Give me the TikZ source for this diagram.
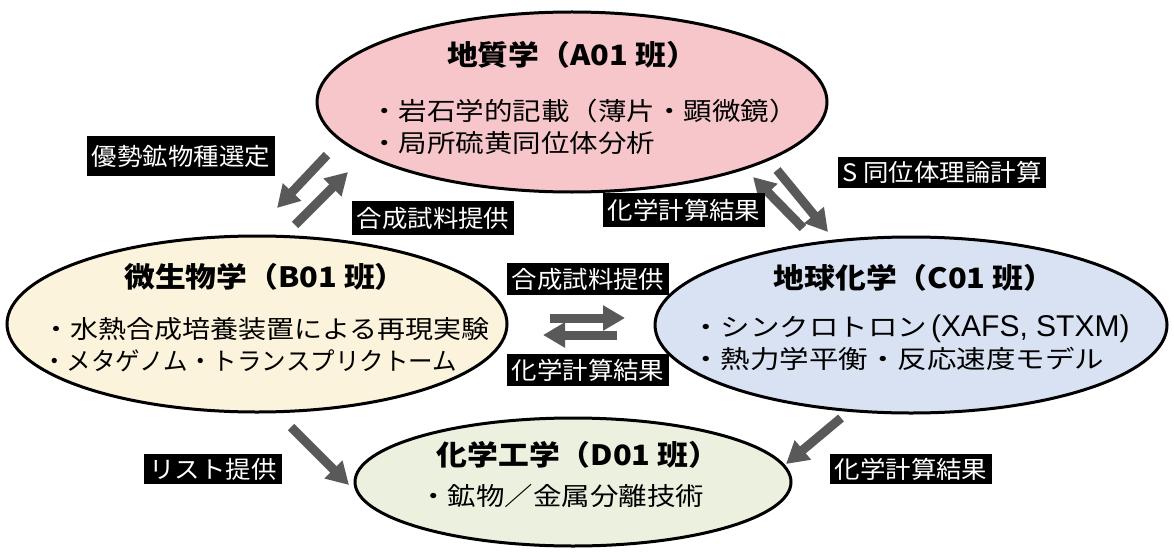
\documentclass[tikz,border=0pt]{standalone}
\usepackage{fontspec}
\setmainfont{Noto Sans CJK JP}
\newfontfamily\itemfont{Noto Sans CJK JP}[FakeStretch=1.14]
\newfontfamily\itemnarrowfont{Noto Sans CJK JP}[FakeStretch=1.12]
\newfontfamily\itemwidefont{Noto Sans CJK JP}[FakeStretch=1.18]
\newfontfamily\kanafont{Noto Sans CJK JP}[FakeStretch=0.98]
\newfontfamily\latinfont{Liberation Sans}
\newfontfamily\titlefont{Noto Sans CJK JP}[FakeStretch=1.1]
\newfontfamily\tagfont{Noto Sans CJK JP}[FakeStretch=1.06]
\usetikzlibrary{shapes.geometric,arrows.meta}
\definecolor{fillA}{RGB}{246,198,202}
\definecolor{fillB}{RGB}{252,243,221}
\definecolor{fillC}{RGB}{216,226,242}
\definecolor{fillD}{RGB}{235,241,222}
\definecolor{arrowgray}{RGB}{89,89,89}
\tikzset{
  groupbox/.style={ellipse, draw=black, line width=3pt, inner sep=0pt},
  titletext/.style={font=\titlefont\fontsize{28}{32}\selectfont\bfseries, inner sep=0pt},
  itemtext/.style={font=\itemfont\fontsize{25}{32}\selectfont, align=left, inner sep=0pt, anchor=west},
  tag/.style={fill=black, text=white, font=\tagfont\fontsize{24}{28}\selectfont, inner xsep=5pt, inner ysep=0pt, minimum height=34pt},
  flow/.style={draw=arrowgray, line width=9pt, -{Triangle[width=24pt,length=22pt]}, arrowgray}
}
\begin{document}
\begin{tikzpicture}[x=1pt,y=-1pt]
\useasboundingbox (0,0) rectangle (1174,559);
\fill[white] (0,0) rectangle (1174,559);

% ellipses
\node[groupbox, fill=fillA, minimum width=510pt, minimum height=180pt] (A) at (572,102) {};
\node[groupbox, fill=fillB, minimum width=500pt, minimum height=176pt] (B) at (257,324) {};
\node[groupbox, fill=fillC, minimum width=512pt, minimum height=176pt] (C) at (911,325) {};
\node[groupbox, fill=fillD, minimum width=436pt, minimum height=128pt] (D) at (573,482) {};

% texts
\node[titletext] (At) at (572,55) {地質学（A01 班）};
\node[itemtext] (Ai) at (370,127) {・岩石学的記載（薄片・顕微鏡）\\・局所硫黄同位体分析};
\node[titletext] (Bt) at (265,277) {微生物学（B01 班）};
\node[itemtext, font=\itemnarrowfont\fontsize{25}{32}\selectfont] (Bi) at (42,345) {・水熱合成培養装置による再現実験\\{\kanafont ・メタゲノム・トランスプリクトーム}};
\node[titletext] (Ct) at (914,278) {地球化学（C01 班）};
\node[itemtext, font=\itemwidefont\fontsize{25}{32}\selectfont] (Ci) at (691,343) {・シンクロトロン\hspace{4pt}{\latinfont\fontsize{30}{32}\selectfont (XAFS, STXM)}\\・熱力学平衡・反応速度モデル};
\node[titletext] (Dt) at (578,455) {化学工学（D01 班）};
\node[itemtext] (Di) at (419,496) {・鉱物／金属分離技術};

% arrow end points
\coordinate (a1s) at (327,155); \coordinate (a1e) at (277,208);
\coordinate (a2s) at (295,225); \coordinate (a2e) at (348,172);
\coordinate (a3s) at (803,228); \coordinate (a3e) at (753,177);
\coordinate (a4s) at (777,170); \coordinate (a4e) at (828,232);
\coordinate (a5s) at (550,318); \coordinate (a5e) at (625,318);
\coordinate (a6s) at (617,335); \coordinate (a6e) at (543,335);
\coordinate (a7s) at (291,427); \coordinate (a7e) at (349,485);
\coordinate (a8s) at (841,418); \coordinate (a8e) at (786,464);

\draw[flow] (a1s) -- (a1e);
\draw[flow] (a2s) -- (a2e);
\draw[flow] (a3s) -- (a3e);
\draw[flow] (a4s) -- (a4e);
\draw[flow] (a5s) -- (a5e);
\draw[flow] (a6s) -- (a6e);
\draw[flow] (a7s) -- (a7e);
\draw[flow] (a8s) -- (a8e);

% labels
\node[tag, minimum height=40pt] (L1) at (181,156) {優勢鉱物種選定};
\node[tag] (L2) at (433,218) {合成試料提供};
\node[tag] (L3) at (684,210) {化学計算結果};
\node[tag, minimum height=31pt] (L4) at (942,172) {S 同位体理論計算};
\node[tag, minimum height=32pt] (L5) at (588,279) {合成試料提供};
\node[tag, minimum height=32pt] (L6) at (588,370) {化学計算結果};
\node[tag, minimum height=30pt] (L7) at (213,469) {リスト提供};
\node[tag, minimum height=30pt] (L8) at (911,469) {化学計算結果};
\end{tikzpicture}
\end{document}
